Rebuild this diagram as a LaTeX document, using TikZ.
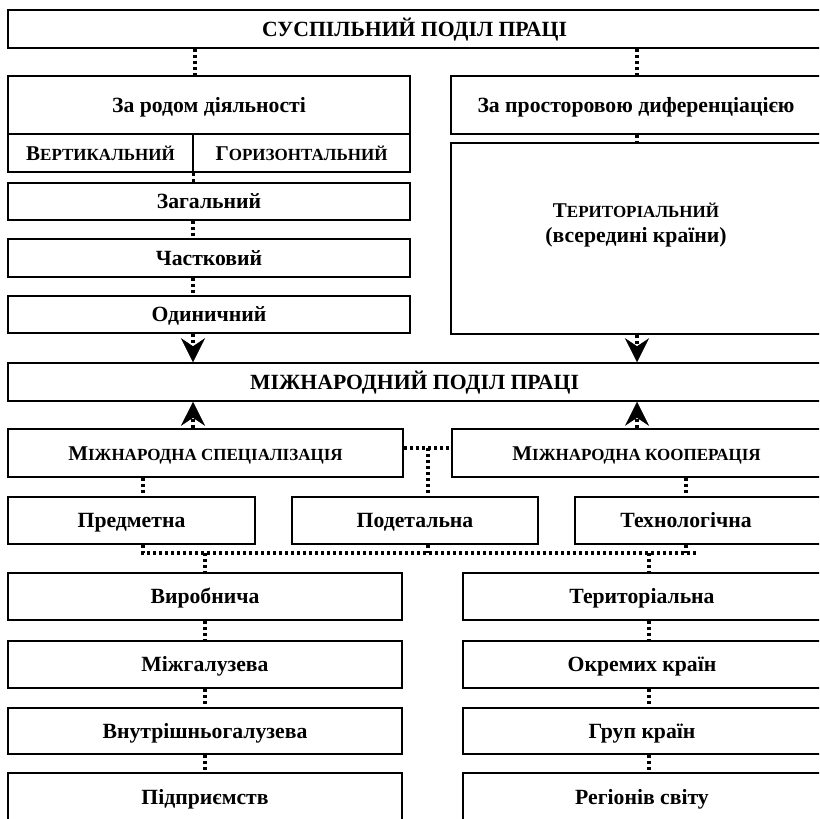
\documentclass[tikz,border=0pt]{standalone}
\usepackage{fontspec}
\setmainfont{Liberation Serif}
\usetikzlibrary{arrows.meta}
\newcommand\myscx[2]{{\fontsize{21}{25}\selectfont #1}{\fontsize{17}{20}\selectfont #2}}
\begin{document}
\begin{tikzpicture}[x=1pt,y=-1pt,
  box/.style={draw, line width=1.5pt, inner sep=0pt, align=center, text height=15pt, text depth=1pt, font=\bfseries\fontsize{21.7}{25}\selectfont},
  txt/.style={inner sep=0pt, align=center, font=\bfseries\fontsize{21.7}{25}\selectfont},
  dl/.style={line width=3.2pt, dash pattern=on 3.3pt off 2.7pt},
  arr/.style={dl, -{Stealth[length=24pt,width=24pt,inset=8pt,line width=0.5pt]}}]
\useasboundingbox (0,0) rectangle (819,819);
\fill[white] (0,0) rectangle (819,819);
\clip (0,0) rectangle (819,819);

\node[box, minimum width=813pt, minimum height=38pt] (top) at (414.5,29) {СУСПІЛЬНИЙ ПОДІЛ ПРАЦІ};
\node[box, minimum width=402pt, minimum height=58pt] (rod) at (209,105) {За родом діяльності};
\node[box, minimum width=185pt, minimum height=38pt] (vert) at (100.5,153) {\myscx{В}{ЕРТИКАЛЬНИЙ}};
\node[box, minimum width=217pt, minimum height=38pt] (hor) at (301.5,153) {\myscx{Г}{ОРИЗОНТАЛЬНИЙ}};
\node[box, minimum width=370pt, minimum height=58pt] (prost) at (636,105) {За просторовою диференціацією};
\node[box, minimum width=370pt, minimum height=191pt] (terr) at (636,238.5) {};
\node[txt] (terrtxt) at (636,225) {\myscx{Т}{ЕРИТОРІАЛЬНИЙ}\\(всередині країни)};
\node[box, minimum width=402pt, minimum height=37pt] (zag) at (209,201.5) {Загальний};
\node[box, minimum width=402pt, minimum height=38pt] (chast) at (209,258) {Частковий};
\node[box, minimum width=402pt, minimum height=37pt] (odyn) at (209,314.5) {Одиничний};
\node[box, minimum width=813pt, minimum height=38pt] (mizh) at (414.5,382) {МІЖНАРОДНИЙ ПОДІЛ ПРАЦІ};
\node[box, minimum width=395pt, minimum height=48pt] (spec) at (205.5,453) {\myscx{М}{ІЖНАРОДНА СПЕЦІАЛІЗАЦІЯ}};
\node[box, minimum width=369pt, minimum height=48pt] (koop) at (636.5,453) {\myscx{М}{ІЖНАРОДНА КООПЕРАЦІЯ}};
\node[box, minimum width=247pt, minimum height=47pt] (pred) at (131.5,520.5) {Предметна};
\node[box, minimum width=246pt, minimum height=47pt] (podet) at (415,520.5) {Подетальна};
\node[box, minimum width=246pt, minimum height=47pt] (tech) at (698,520.5) {};
\node[txt, text height=15pt, text depth=1pt] (techtxt) at (686,520.5) {Технологічна};

\node[box, minimum width=394pt, minimum height=47pt] (l1) at (205,596.5) {Виробнича};
\node[box, minimum width=394pt, minimum height=47pt] (l2) at (205,664.5) {Міжгалузева};
\node[box, minimum width=394pt, minimum height=46pt] (l3) at (205,731) {Внутрішньогалузева};
\node[box, minimum width=394pt, minimum height=48pt] (l4) at (205,797) {Підприємств};
\node[box, minimum width=358pt, minimum height=47pt] (r1) at (642,596.5) {Територіальна};
\node[box, minimum width=358pt, minimum height=47pt] (r2) at (642,664.5) {Окремих країн};
\node[box, minimum width=358pt, minimum height=46pt] (r3) at (642,731) {Груп країн};
\node[box, minimum width=358pt, minimum height=48pt] (r4) at (642,797) {Регіонів світу};

\coordinate (cx195) at (195,0);
\coordinate (cx637) at (637,0);
\coordinate (cx193) at (193,0);
\coordinate (cx143) at (143,0);
\coordinate (cx428) at (428,0);
\coordinate (cx686) at (686,0);
\coordinate (cx205) at (205,0);
\coordinate (cx649) at (649,0);
\coordinate (hl) at (697,553);
\coordinate (hy) at (0,553);
\coordinate (jy) at (0,448);

\draw[dl] (top.south -| cx195) -- (rod.north -| cx195);
\draw[dl] (top.south -| cx637) -- (prost.north -| cx637);
\draw[dl] (prost.south -| cx637) -- (terr.north -| cx637);
\draw[dl] (vert.south east) -- (zag.north -| vert.south east);
\draw[dl] (zag.south -| cx193) -- (chast.north -| cx193);
\draw[dl] (chast.south -| cx193) -- (odyn.north -| cx193);
\draw[arr] (odyn.south -| cx193) -- (mizh.north -| cx193);
\draw[arr] (terr.south -| cx637) -- (mizh.north -| cx637);
\draw[arr] (spec.north -| cx193) -- (mizh.south -| cx193);
\draw[arr] (koop.north -| cx637) -- (mizh.south -| cx637);
\draw[dl] (spec.east |- jy) -- (koop.west |- jy);
\draw[dl] (cx428 |- jy) -- (podet.north -| cx428);
\draw[dl] (spec.south -| cx143) -- (pred.north -| cx143);
\draw[dl] (koop.south -| cx686) -- (tech.north -| cx686);
\draw[dl] (pred.south -| cx143) |- (hl);
\draw[dl] (podet.south -| cx428) -- (cx428 |- hy);
\draw[dl] (tech.south -| cx686) -- (cx686 |- hy);
\draw[dl] (cx205 |- hy) -- (l1.north -| cx205);
\draw[dl] (cx649 |- hy) -- (r1.north -| cx649);
\draw[dl] (l1.south -| cx205) -- (l2.north -| cx205);
\draw[dl] (l2.south -| cx205) -- (l3.north -| cx205);
\draw[dl] (l3.south -| cx205) -- (l4.north -| cx205);
\draw[dl] (r1.south -| cx649) -- (r2.north -| cx649);
\draw[dl] (r2.south -| cx649) -- (r3.north -| cx649);
\draw[dl] (r3.south -| cx649) -- (r4.north -| cx649);
\end{tikzpicture}
\end{document}
